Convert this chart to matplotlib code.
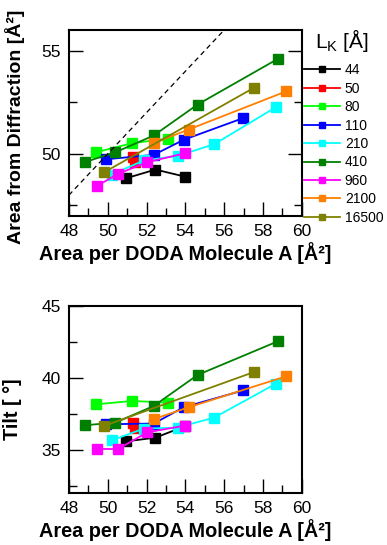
import matplotlib
matplotlib.use("Agg")
import matplotlib.pyplot as plt

plt.rcParams['font.family'] = ['Liberation Sans', 'DejaVu Sans']
plt.rcParams['mathtext.fontset'] = 'custom'
plt.rcParams['mathtext.rm'] = 'Liberation Sans'

# L_K values (legend) and colours
lk_labels = ["44", "50", "80", "110", "210", "410", "960", "2100", "16500"]
colors = ["#000000", "#ff0000", "#00ff00", "#0000ff", "#00ffff",
          "#008000", "#ff00ff", "#ff8000", "#808000"]

# area per DODA molecule (x) for each series
x44 = [50.95, 52.46, 53.97]
x50 = [51.3, 51.4]
x80 = [49.41, 51.26, 53.09]
x110 = [49.92, 52.37, 53.91, 56.97]
x210 = [50.2, 51.86, 53.6, 55.49, 58.66]
x410 = [48.82, 50.4, 52.37, 54.63, 58.78]
x960 = [49.44, 50.52, 52.04, 54.0]
x2100 = [52.37, 54.17, 59.2]
x16500 = [49.82, 57.55]

# area from diffraction (top panel)
a44 = [48.82, 49.24, 48.9]
a50 = [49.85, 49.62]
a80 = [50.08, 50.52, 50.73]
a110 = [49.74, 49.95, 50.68, 51.73]
a210 = [49.0, 49.68, 49.9, 50.47, 52.26]
a410 = [49.6, 50.08, 50.89, 52.39, 54.61]
a960 = [48.44, 49.03, 49.6, 50.03]
a2100 = [50.52, 51.18, 53.03]
a16500 = [49.11, 53.21]

# tilt angle (bottom panel)
t44 = [35.59, 35.85, 36.64]
t50 = [36.85, 36.54]
t80 = [38.17, 38.40, 38.29]
t110 = [36.78, 36.83, 37.96, 39.13]
t210 = [35.66, 36.48, 36.55, 37.25, 39.6]
t410 = [36.71, 36.9, 38.05, 40.21, 42.56]
t960 = [35.07, 35.05, 36.22, 36.69]
t2100 = [37.14, 37.96, 40.12]
t16500 = [36.67, 40.42]

xs = [x44, x50, x80, x110, x210, x410, x960, x2100, x16500]
areas = [a44, a50, a80, a110, a210, a410, a960, a2100, a16500]
tilts = [t44, t50, t80, t110, t210, t410, t960, t2100, t16500]

diag = [48, 56]  # y = x reference line

fig = plt.figure(figsize=(3.87, 5.45), dpi=100)
ax1 = fig.add_axes([0.178, 0.604, 0.602, 0.341])
ax2 = fig.add_axes([0.178, 0.0954, 0.602, 0.343])

handles = []
for x, a, t, c, lab in zip(xs, areas, tilts, colors, lk_labels):
    h, = ax1.plot(x, a, '-s', color=c, lw=1.3, ms=6.6, mec=c, label=lab)
    ax2.plot(x, t, '-s', color=c, lw=1.3, ms=6.6, mec=c)
    handles.append(h)

ax1.plot(diag, diag, color='black', lw=0.9, ls=(0, (4, 3)))

ax1.set_xlim(48, 60)
ax1.set_ylim(47, 56)
ax1.set_yticks([50, 55])
ax1.set_yticks([47.5, 52.5], minor=True)
ax2.set_xlim(48, 60)
ax2.set_ylim(32, 45)
ax2.set_yticks([35, 40, 45])
ax2.set_yticks([32.5, 37.5, 42.5], minor=True)

for ax in (ax1, ax2):
    ax.set_xticks(range(48, 61, 2))
    ax.set_xticks(range(49, 61, 2), minor=True)
    for s in ax.spines.values():
        s.set_linewidth(1.5)
    ax.tick_params(which='both', direction='in', top=False, labelsize=12.5,
                   width=1.0, pad=6)
    ax.tick_params(which='major', length=10)
    ax.tick_params(which='minor', length=6)
    ax.set_xlabel('Area per DODA Molecule A [Å²]',
                  fontsize=14.3, fontweight='bold', labelpad=2)

ax1.tick_params(which='both', right=True)
ax2.tick_params(which='both', right=False)

ax1.set_ylabel('Area from Diffraction [Å²]', fontsize=14,
               fontweight='bold')
ax2.set_ylabel('Tilt [ °]', fontsize=14.3, fontweight='bold')
ax1.yaxis.set_label_coords(-0.19, 0.48)
ax2.yaxis.set_label_coords(-0.20, 0.45)

leg = fig.legend(handles=handles, loc='upper left',
                 bbox_to_anchor=(0.785, 0.884), frameon=False, fontsize=10,
                 handlelength=2.6, handletextpad=0.35, labelspacing=0.32,
                 markerscale=0.75, borderpad=0, borderaxespad=0)
fig.text(0.815, 0.925, r'L$_\mathregular{K}$ [Å]', fontsize=15,
         va='center', ha='left')

fig.savefig('out.png', dpi=100)
